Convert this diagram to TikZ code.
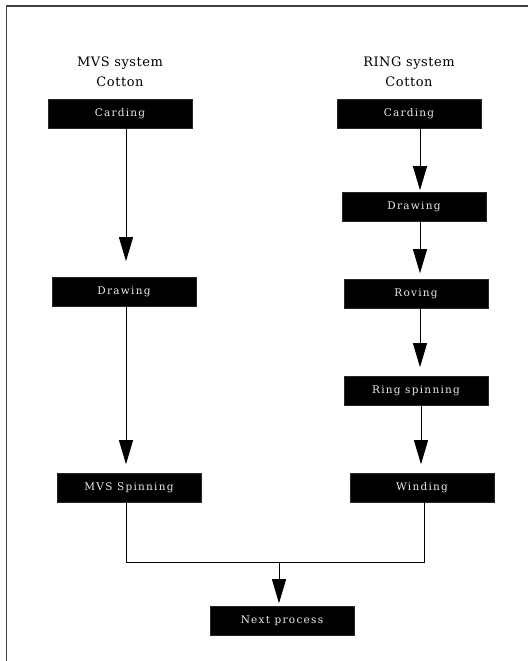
\documentclass[tikz,border=0pt]{standalone}
\usepackage{fontspec}
\setmainfont{DejaVu Serif}
\newfontfamily\boxfont[LetterSpace=12]{DejaVu Serif}
\newfontfamily\titlefont[LetterSpace=4]{DejaVu Serif}
\usetikzlibrary{arrows.meta}
\begin{document}
\begin{tikzpicture}[x=1pt,y=-1pt,
  procbox/.style={fill=black,draw=black!85,line width=0.6pt,minimum width=144pt,minimum height=29pt,
    inner sep=0pt,text=white!92!black,font=\boxfont\fontsize{10.5}{12}\selectfont},
  title/.style={align=center,font=\titlefont\fontsize{13}{20}\selectfont,inner sep=0pt},
  flow/.style={line width=0.9pt,-{Triangle[width=14pt,length=24pt]}},
  link/.style={line width=0.9pt}]
\useasboundingbox (0,0) rectangle (528,661);
% frame
\draw[line width=1.4pt,black!75] (6.5,661) -- (6.5,6) -- (528,6);
% titles
\node[title] (t1) at (120,72) {MVS system\\Cotton};
\node[title] (t2) at (409,72) {RING system\\Cotton};
% MVS column
\node[procbox] (mc) at (120,114) {Carding};
\node[procbox] (md) at (124,292) {Drawing};
\node[procbox] (ms) at (129,488) {MVS Spinning};
% RING column
\node[procbox] (rc) at (409,114) {Carding};
\node[procbox] (rd) at (414,207) {Drawing};
\node[procbox] (rr) at (416,294) {Roving};
\node[procbox] (rs) at (416,391) {Ring spinning};
\node[procbox] (rw) at (422,488) {Winding};
% next
\node[procbox] (nx) at (282,621) {Next process};
\coordinate (j) at (279,562);
% arrows
\draw[flow,shorten >=16pt] (mc.south -| 126,0) -- (md.north -| 126,0);
\draw[flow,shorten >=9pt] (md.south -| 126,0) -- (ms.north -| 126,0);
\draw[flow,shorten >=2pt] (rc.south -| 420,0) -- (rd.north -| 420,0);
\draw[flow,shorten >=6pt] (rd.south -| 420,0) -- (rr.north -| 420,0);
\draw[flow,shorten >=9pt] (rr.south -| 420,0) -- (rs.north -| 420,0);
\draw[flow,shorten >=9pt] (rs.south -| 421,0) -- (rw.north -| 421,0);
\draw[link] (ms.south -| 126,0) |- (j);
\draw[link] (rw.south -| 424,0) |- (j);
\draw[flow,shorten >=3pt] (j) -- (nx.north -| j);
\end{tikzpicture}
\end{document}
